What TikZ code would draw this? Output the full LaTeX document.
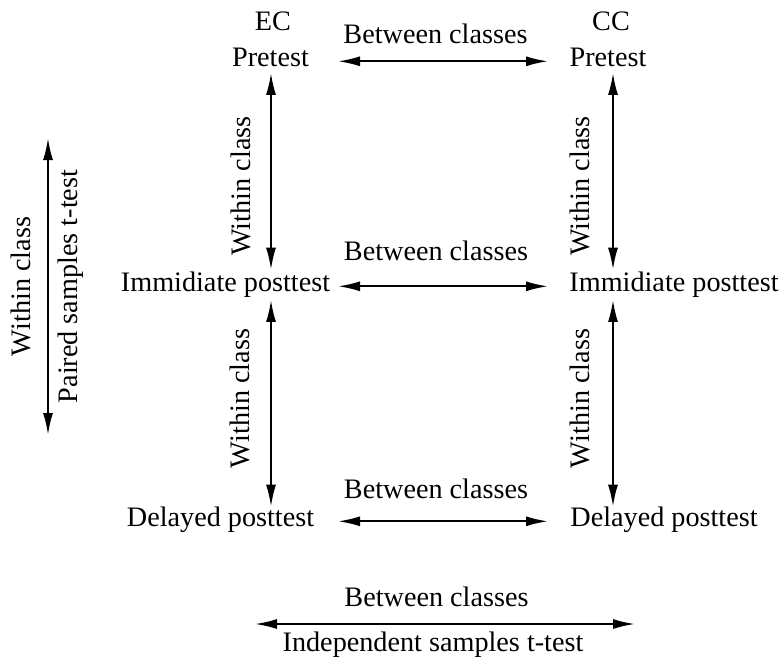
\documentclass[tikz,border=0pt]{standalone}
\usepackage{fontspec}
\setmainfont{Liberation Serif}
\usepackage{tikz}
\usetikzlibrary{arrows.meta}

\begin{document}
\begin{tikzpicture}[
    x=0.5pt, y=-0.5pt,
    every node/.style={inner sep=0pt, text height=0.7em, text depth=0.22em,
        font=\fontsize{14.1}{16}\selectfont},
    link/.style={{Latex[length=11pt,width=5pt]}-{Latex[length=11pt,width=5pt]}, line width=1pt},
    vlabel/.style={rotate=90}
]

\useasboundingbox (0,0) rectangle (781,664);

% guide coordinates for the arrows
\coordinate (colL) at (338,0);
\coordinate (colR) at (548,0);
\coordinate (ecx) at (271,0);
\coordinate (ccx) at (613,0);

% EC column
\node (ec) at (273,25.3) {EC};
\node (pre1) at (270.5,61.3) {Pretest};
\node (imm1) at (225.5,286.3) {Immidiate posttest};
\node (del1) at (220.5,521.3) {Delayed posttest};

% CC column
\node (cc) at (611,25.3) {CC};
\node (pre2) at (608,61.3) {Pretest};
\node (imm2) at (674,286.3) {Immidiate posttest};
\node (del2) at (664,521.3) {Delayed posttest};

% between classes
\draw[link] (pre1.east -| colL) -- (pre2.west -| colR);
\draw[link] (imm1.east -| colL) -- (imm2.west -| colR);
\draw[link] (del1.east -| colL) -- (del2.west -| colR);
\node (btw1) at (435.5,38.3) {Between classes};
\node (btw2) at (436,255.3) {Between classes};
\node (btw3) at (436,493.3) {Between classes};

% within class
\draw[link, shorten <=1pt, shorten >=3.5pt] (pre1.south -| ecx) -- (imm1.north -| ecx);
\draw[link, shorten <=2pt, shorten >=2.5pt] (imm1.south -| ecx) -- (del1.north -| ecx);
\draw[link, shorten <=1pt, shorten >=3.5pt] (pre2.south -| ccx) -- (imm2.north -| ccx);
\draw[link, shorten <=2pt, shorten >=2.5pt] (imm2.south -| ccx) -- (del2.north -| ccx);
\node[vlabel] (win1) at (246,186) {Within class};
\node[vlabel] (win2) at (245,398.5) {Within class};
\node[vlabel] (win3) at (585,186) {Within class};
\node[vlabel] (win4) at (585,398.5) {Within class};

% legend left
\coordinate (pt1) at (48,138);
\coordinate (pt2) at (48,435);
\draw[link] (pt1) -- (pt2);
\node[vlabel] (wleg) at (26,286.5) {Within class};
\node[vlabel] (paired) at (73,286.5) {Paired samples t-test};

% legend bottom
\coordinate (it1) at (255,624);
\coordinate (it2) at (635,624);
\draw[link] (it1) -- (it2);
\node (bleg) at (436.5,601.3) {Between classes};
\node (indep) at (433,646.3) {Independent samples t-test};

\end{tikzpicture}
\end{document}
